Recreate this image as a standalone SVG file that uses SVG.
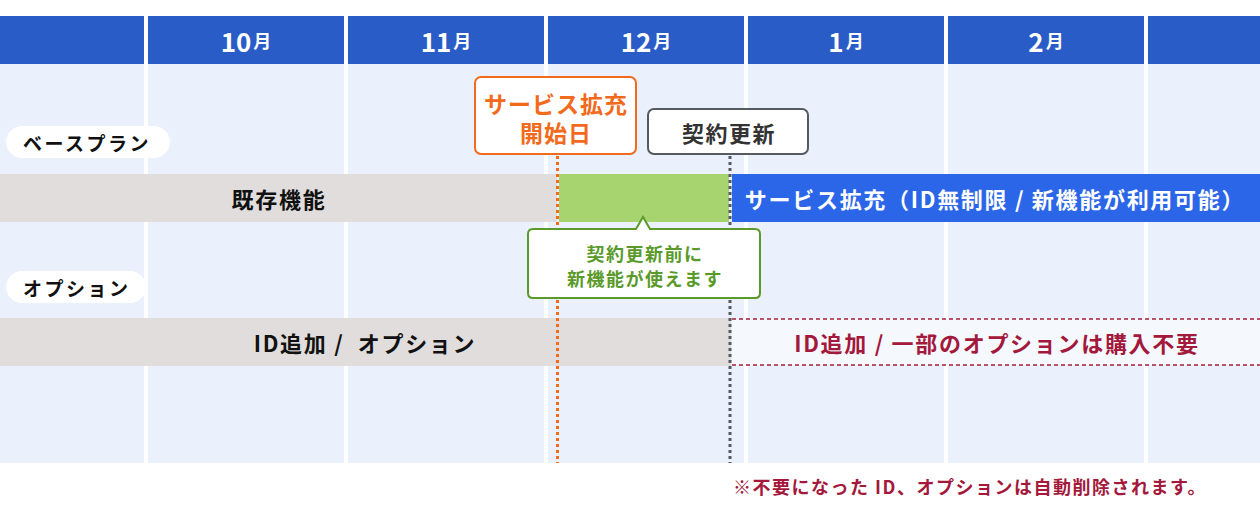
<svg xmlns="http://www.w3.org/2000/svg" width="1260" height="512" viewBox="0 0 1260 512">
<style>
text{font-family:"Noto Sans CJK JP","Noto Sans",sans-serif;font-weight:700;text-anchor:middle;dominant-baseline:central}
.hd{fill:#2a5cc8}
.bd{fill:#eaf1fc}
.mon{fill:#fff;font-size:26px}
.mon tspan{font-size:18px}
.pill{fill:#fff}
.lab{fill:#111;font-size:19px;text-anchor:start;letter-spacing:2.5px}
.bar{font-size:22px;letter-spacing:1.7px}
.note{fill:#a3183b;font-size:18px;letter-spacing:1.5px;text-anchor:start}
</style>
<rect width="1260" height="512" fill="#fff"/>
<g id="grid">
<rect class="hd" x="0" y="16" width="144" height="48"/>
<rect class="hd" x="148" y="16" width="196" height="48"/>
<rect class="hd" x="348" y="16" width="196" height="48"/>
<rect class="hd" x="548" y="16" width="196" height="48"/>
<rect class="hd" x="748" y="16" width="196" height="48"/>
<rect class="hd" x="948" y="16" width="196" height="48"/>
<rect class="hd" x="1148" y="16" width="112" height="48"/>
<rect class="bd" x="0" y="64" width="144" height="399"/>
<rect class="bd" x="148" y="64" width="196" height="399"/>
<rect class="bd" x="348" y="64" width="196" height="399"/>
<rect class="bd" x="548" y="64" width="196" height="399"/>
<rect class="bd" x="748" y="64" width="196" height="399"/>
<rect class="bd" x="948" y="64" width="196" height="399"/>
<rect class="bd" x="1148" y="64" width="112" height="399"/>
<text class="mon" x="246" y="40">10<tspan dx="2">月</tspan></text>
<text class="mon" x="446" y="40">11<tspan dx="2">月</tspan></text>
<text class="mon" x="646" y="40">12<tspan dx="2">月</tspan></text>
<text class="mon" x="846" y="40">1<tspan dx="2">月</tspan></text>
<text class="mon" x="1046" y="40">2<tspan dx="2">月</tspan></text>
</g>
<g id="base-label">
<rect class="pill" x="6" y="126" width="164" height="32" rx="16"/>
<text class="lab" x="23" y="142">ベースプラン</text>
</g>
<g id="base-bars">
<rect x="0" y="174" width="557" height="48" fill="#e0dddc"/>
<text class="bar" x="279" y="198" fill="#111">既存機能</text>
<rect x="559" y="174" width="170" height="48" fill="#a8d46f"/>
<rect x="732" y="174" width="528" height="48" fill="#2c66e8"/>
<text class="bar" x="995" y="198" fill="#fff">サービス拡充（ID無制限 / 新機能が利用可能）</text>
</g>
<g id="option-label">
<rect class="pill" x="6" y="271" width="140" height="32" rx="16"/>
<text class="lab" x="23" y="287">オプション</text>
</g>
<g id="option-bars">
<rect x="0" y="318" width="731" height="48" fill="#e0dddc"/>
<text class="bar" x="365" y="342" fill="#111" xml:space="preserve">ID追加 /  オプション</text>
<rect x="732" y="319" width="528" height="46" fill="#f5f9fe"/>
<line x1="732" y1="319" x2="1260" y2="319" stroke="#a51c3a" stroke-width="1.5" stroke-dasharray="4 3"/>
<line x1="732" y1="365" x2="1260" y2="365" stroke="#a51c3a" stroke-width="1.5" stroke-dasharray="4 3"/>
<text class="bar" x="997" y="342" fill="#a3183b">ID追加 / 一部のオプションは購入不要</text>
</g>
<g id="connectors">
<line x1="557.5" y1="156" x2="557.5" y2="463" stroke="#f26a1b" stroke-width="3" stroke-dasharray="3 3"/>
<line x1="730" y1="156" x2="730" y2="463" stroke="#555a60" stroke-width="3" stroke-dasharray="3 3"/>
</g>
<g id="start-box">
<rect x="475" y="77" width="161" height="77" rx="6" fill="#fff" stroke="#f26a1b" stroke-width="2"/>
<text x="556" y="103" font-size="23" letter-spacing="1" fill="#f26a1b">サービス拡充</text>
<text x="556" y="132" font-size="23" letter-spacing="1" fill="#f26a1b">開始日</text>
</g>
<g id="renew-box">
<rect x="648" y="109" width="160" height="45" rx="6" fill="#fff" stroke="#555a60" stroke-width="2"/>
<text x="729" y="132" font-size="22" letter-spacing="1.5" fill="#333">契約更新</text>
</g>
<g id="callout">
<path d="M533 229 H636 L643 217 L650 229 H755 Q760 229 760 234 V293 Q760 298 755 298 H533 Q528 298 528 293 V234 Q528 229 533 229 Z" fill="#fff" stroke="#5a9a2a" stroke-width="2"/>
<text x="645" y="253" font-size="18" letter-spacing="1.5" fill="#5a9a2a">契約更新前に</text>
<text x="645" y="278" font-size="18" letter-spacing="1.5" fill="#5a9a2a">新機能が使えます</text>
</g>
<g id="note">
<text class="note" x="733" y="486">※不要になった ID、オプションは自動削除されます。</text>
</g>
</svg>
